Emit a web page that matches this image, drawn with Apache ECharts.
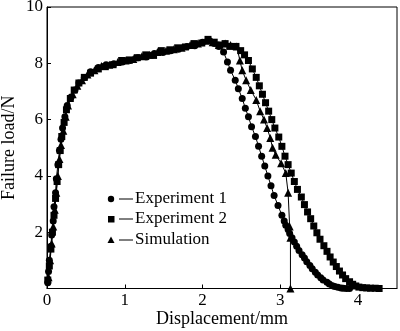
<!DOCTYPE html>
<html>
<head>
<meta charset="utf-8">
<script src="https://cdn.jsdelivr.net/npm/echarts@6/dist/echarts.min.js"></script>
<style>html,body{margin:0;padding:0;background:#fff}#c{width:400px;height:331px}</style>
</head>
<body>
<div id="c"></div>
<script>
var xTicks = [0, 1, 2, 3, 4];
var yTicks = [2, 4, 6, 8, 10];
var seriesNames = ['Experiment 1', 'Experiment 2', 'Simulation'];

var experiment1 = [
  [0.01,0.2],[0.02,0.6],[0.03,1.0],[0.05,1.5],[0.06,1.9],[0.08,2.4],[0.09,2.9],[0.11,3.4],[0.12,3.9],[0.14,4.4],[0.16,4.9],
  [0.18,5.3],[0.2,5.7],[0.23,6.1],[0.26,6.5],[0.31,6.8],[0.36,7.05],[0.41,7.3],[0.48,7.5],[0.56,7.7],[0.66,7.85],
  [0.76,7.95],[0.86,7.98],[0.97,8.05],[1.07,8.1],[1.17,8.2],[1.28,8.22],[1.38,8.35],[1.49,8.38],[1.59,8.45],
  [1.69,8.5],[1.8,8.6],[1.9,8.62],[2.0,8.75],[2.09,8.8],[2.15,8.7],[2.21,8.6],[2.27,8.4],[2.32,8.05],
  [2.36,7.75],[2.42,7.4],[2.46,7.1],[2.51,6.75],[2.55,6.4],[2.59,6.1],[2.63,5.75],[2.68,5.4],[2.72,5.05],
  [2.76,4.7],[2.8,4.35],[2.84,4.0],[2.88,3.65],[2.92,3.3],[2.97,2.95],[3.02,2.6],[3.05,2.4],[3.07,2.25],[3.1,2.1],[3.12,1.95],
  [3.15,1.8],[3.18,1.65],[3.21,1.5],[3.24,1.35],[3.28,1.2],[3.31,1.08],[3.34,0.95],[3.38,0.82],[3.41,0.7],[3.45,0.58],[3.48,0.48],
  [3.52,0.38],[3.55,0.3],[3.6,0.22],[3.63,0.16],[3.67,0.1],[3.7,0.07],[3.74,0.04],[3.78,0.02],[3.81,0.01],[3.85,0],[3.89,0]
];
var experiment2 = [
  [0.01,0.3],[0.03,0.8],[0.05,1.4],[0.07,2.0],[0.09,2.6],[0.11,3.2],[0.13,3.8],[0.15,4.4],[0.17,4.9],
  [0.19,5.4],[0.22,5.9],[0.25,6.35],[0.3,6.75],[0.35,7.05],[0.41,7.3],[0.48,7.5],[0.56,7.65],[0.66,7.8],
  [0.75,7.88],[0.85,7.95],[0.96,8.1],[1.06,8.12],[1.16,8.2],[1.27,8.3],[1.37,8.28],[1.47,8.45],[1.58,8.48],
  [1.68,8.55],[1.78,8.58],[1.89,8.7],[1.99,8.72],[2.07,8.85],[2.15,8.75],[2.22,8.65],[2.29,8.7],[2.35,8.6],[2.43,8.6],
  [2.49,8.45],[2.54,8.3],[2.59,8.1],[2.64,7.8],[2.69,7.5],[2.73,7.2],[2.77,6.9],[2.81,6.6],[2.85,6.3],[2.89,6.0],
  [2.93,5.7],[2.98,5.38],[3.02,5.05],[3.06,4.7],[3.1,4.4],[3.14,4.1],[3.18,3.8],[3.22,3.52],[3.27,3.25],
  [3.31,2.98],[3.35,2.72],[3.39,2.48],[3.43,2.22],[3.47,1.98],[3.51,1.75],[3.56,1.52],[3.6,1.32],[3.64,1.12],
  [3.68,0.94],[3.72,0.78],[3.76,0.62],[3.8,0.48],[3.84,0.35],[3.89,0.24],[3.93,0.15],[3.97,0.09],[4.01,0.05],
  [4.06,0.03],[4.11,0.02],[4.16,0.01],[4.22,0.01],[4.27,0]
];
var simulation = [
  [0.02,0.4],[0.04,1.0],[0.06,1.6],[0.08,2.2],[0.1,2.8],[0.12,3.4],[0.14,4.0],[0.16,4.6],[0.18,5.1],
  [0.21,5.6],[0.24,6.1],[0.27,6.5],[0.33,6.9],[0.39,7.2],[0.45,7.4],[0.52,7.6],[0.61,7.75],[0.7,7.9],
  [0.8,7.95],[0.91,8.05],[1.01,8.1],[1.11,8.15],[1.22,8.25],[1.32,8.3],[1.42,8.4],[1.53,8.45],[1.63,8.5],
  [1.73,8.55],[1.84,8.65],[1.94,8.7],[2.04,8.8],[2.13,8.75],[2.21,8.65],[2.29,8.7],[2.36,8.65],[2.44,8.6],
  [2.48,8.1],[2.51,7.75],[2.56,7.4],[2.62,7.05],[2.69,6.7],[2.74,6.3],[2.79,6.0],[2.83,5.7],[2.87,5.35],
  [2.9,5.0],[2.94,4.75],[3.01,4.45],[3.07,4.1],[3.1,3.4],[3.12,2.2],[3.13,1.8],[3.13,0]
];

var font = 'Liberation Serif, Times New Roman, serif';
var chart = echarts.init(document.getElementById('c'), null, {renderer: 'canvas'});

function mk(name, data, symbol, size) {
  return {
    name: name, type: 'line', data: data, symbol: symbol, symbolSize: size,
    showAllSymbol: true, animation: false,
    lineStyle: {color: '#000', width: 1},
    itemStyle: {color: '#000'}
  };
}

var legendRows = [199, 219, 240];
var legendSymbols = ['circle', 'rect', 'triangle'];
var graphics = [];
seriesNames.forEach(function (n, i) {
  var y = legendRows[i];
  if (legendSymbols[i] === 'circle') {
    graphics.push({type: 'circle', shape: {cx: 111, cy: y, r: 3.2}, style: {fill: '#000'}});
  } else if (legendSymbols[i] === 'rect') {
    graphics.push({type: 'rect', shape: {x: 108, y: y - 3, width: 6.5, height: 6.5}, style: {fill: '#000'}});
  } else {
    graphics.push({type: 'polygon', shape: {points: [[111, y - 3.5], [107.5, y + 3], [114.5, y + 3]]}, style: {fill: '#000'}});
  }
  graphics.push({type: 'line', shape: {x1: 119, y1: y, x2: 133, y2: y}, style: {stroke: '#000', lineWidth: 1}});
  graphics.push({type: 'text', x: 135, y: y, style: {text: n, font: '17px ' + font, fill: '#000', verticalAlign: 'middle'}});
});

chart.setOption({
  animation: false,
  backgroundColor: '#fff',
  grid: {left: 47, right: 3, top: 7, bottom: 42.5, show: true, borderColor: '#000', borderWidth: 1,
    backgroundColor: 'transparent', outerBoundsMode: 'none', containLabel: false},
  xAxis: {
    type: 'value', min: xTicks[0], max: 4.5, interval: 1,
    name: 'Displacement/mm', nameLocation: 'middle', nameGap: 22, nameMoveOverlap: false,
    nameTextStyle: {fontFamily: font, fontSize: 18, color: '#000'},
    axisLine: {show: true, lineStyle: {color: '#000', width: 1}},
    axisTick: {show: true, inside: true, length: 4, lineStyle: {color: '#000'}},
    axisLabel: {fontFamily: font, fontSize: 17, color: '#000', margin: 4, showMaxLabel: false,
      formatter: function (v) { return xTicks.indexOf(v) >= 0 ? String(v) : ''; }},
    splitLine: {show: false}
  },
  yAxis: {
    type: 'value', min: 0, max: yTicks[yTicks.length - 1], interval: 2,
    name: 'Failure load/N', nameLocation: 'middle', nameGap: 29, nameMoveOverlap: false,
    nameTextStyle: {fontFamily: font, fontSize: 18, color: '#000'},
    axisLine: {show: true, lineStyle: {color: '#000', width: 1}},
    axisTick: {show: true, inside: true, length: 4, lineStyle: {color: '#000'}},
    axisLabel: {fontFamily: font, fontSize: 17, color: '#000', margin: 4, showMinLabel: false,
      formatter: function (v) { return yTicks.indexOf(v) >= 0 ? String(v) : ''; }},
    splitLine: {show: false}
  },
  series: [
    mk(seriesNames[0], experiment1, 'circle', 7),
    mk(seriesNames[1], experiment2, 'rect', 7),
    mk(seriesNames[2], simulation, 'triangle', 8)
  ],
  graphic: graphics
});
</script>
</body>
</html>
